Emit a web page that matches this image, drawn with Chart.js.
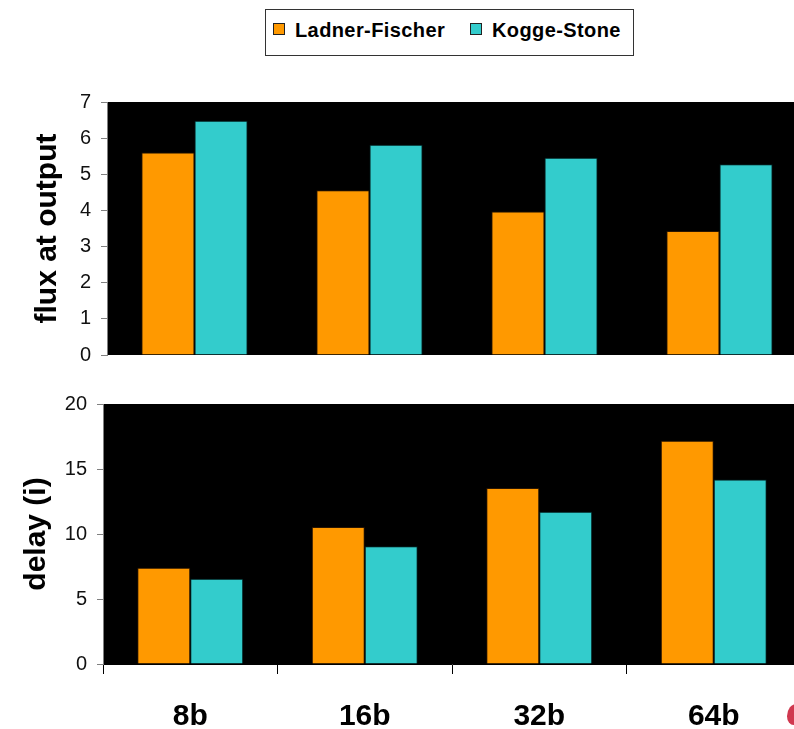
<!DOCTYPE html>
<html>
<head>
<meta charset="utf-8">
<script src="https://cdn.jsdelivr.net/npm/chart.js@4.4.1/dist/chart.umd.min.js"></script>
<style>
html, body { margin: 0; padding: 0; width: 794px; height: 729px; overflow: hidden; background: #fff; }
canvas { position: absolute; left: 0; }
#c1 { top: 0; }
#c2 { top: 370px; }
.lg { position: absolute; font-family: "Liberation Sans", Arial, sans-serif; font-weight: bold; font-size: 20px; line-height: 20px; letter-spacing: 0.4px; color: #000; white-space: nowrap; }
.sw { position: absolute; width: 10px; height: 10px; border: 1px solid #222; }
#lgbox { position: absolute; left: 265px; top: 9px; width: 367px; height: 45px; border: 1px solid #333; }
#blob { position: absolute; left: 787px; top: 704px; width: 16px; height: 21px; background: #d0384f; border-radius: 70% 30% 50% 50%; }
</style>
</head>
<body>
<div id="lgbox"></div>
<div class="sw" style="left:273px;top:23px;background:#FF9900"></div>
<div class="lg" style="left:295px;top:20px">Ladner-Fischer</div>
<div class="sw" style="left:470px;top:23px;background:#33CCCC"></div>
<div class="lg" style="left:492px;top:20px">Kogge-Stone</div>
<canvas id="c1" width="807" height="377"></canvas>
<canvas id="c2" width="801" height="374"></canvas>
<div id="blob"></div>
<script>
// categories (adder widths)
var categories = ['8b', '16b', '32b', '64b'];
var seriesNames = ['Ladner-Fischer', 'Kogge-Stone'];

// top panel - flux at output
var fluxLF = [5.6, 4.56, 3.97, 3.43];
var fluxKS = [6.48, 5.82, 5.46, 5.28];
var fluxMax = 7, fluxStep = 1;

// bottom panel - delay
var delayLF = [7.4, 10.54, 13.54, 17.18];
var delayKS = [6.55, 9.05, 11.72, 14.2];
var delayMax = 20, delayStep = 5;

var orange = '#FF9900';
var teal = '#33CCCC';

Chart.defaults.font.family = '"Liberation Sans", Arial, sans-serif';
Chart.defaults.color = '#000';

// black plot background, drawn before the axes
var blackArea = {
    id: 'blackArea',
    beforeDraw: function(chart) {
        var a = chart.chartArea;
        var ctx = chart.ctx;
        ctx.save();
        ctx.fillStyle = '#000';
        ctx.fillRect(a.left, a.top, a.right - a.left, a.bottom - a.top);
        ctx.restore();
    }
};

function makeSets(lf, ks) {
    return [
        {
            label: seriesNames[0],
            data: lf,
            backgroundColor: orange,
            borderColor: 'rgba(60,30,0,0.7)',
            borderWidth: 1,
            categoryPercentage: 0.607,
            barPercentage: 1.0
        },
        {
            label: seriesNames[1],
            data: ks,
            backgroundColor: teal,
            borderColor: 'rgba(0,50,50,0.7)',
            borderWidth: 1,
            categoryPercentage: 0.607,
            barPercentage: 1.0
        }
    ];
}

function yAxis(max, step, title, axisWidth, titlePad) {
    return {
        min: 0,
        max: max,
        afterFit: function(s) { s.width = axisWidth; },
        ticks: { stepSize: step, padding: 10, color: '#111', font: { size: 20 } },
        grid: { drawOnChartArea: false, tickLength: 6, color: '#808080' },
        border: { color: '#808080' },
        title: {
            display: true,
            text: title,
            color: '#000',
            font: { size: 30, weight: 'bold' },
            padding: { top: titlePad, bottom: 0 }
        }
    };
}

// ---------- flux at output
new Chart(document.getElementById('c1').getContext('2d'), {
    type: 'bar',
    data: { labels: categories, datasets: makeSets(fluxLF, fluxKS) },
    options: {
        responsive: false,
        animation: false,
        layout: { padding: { top: 102, bottom: 16, left: 0, right: 0 } },
        plugins: { legend: { display: false }, tooltip: { enabled: false } },
        scales: {
            x: { display: false },
            y: yAxis(fluxMax, fluxStep, 'flux at output', 107, 30)
        }
    },
    plugins: [blackArea]
});

// ---------- delay
new Chart(document.getElementById('c2').getContext('2d'), {
    type: 'bar',
    data: { labels: categories, datasets: makeSets(delayLF, delayKS) },
    options: {
        responsive: false,
        animation: false,
        layout: { padding: { top: 34, bottom: 0, left: 0, right: 0 } },
        plugins: { legend: { display: false }, tooltip: { enabled: false } },
        scales: {
            x: {
                afterFit: function(s) { s.height = 80; },
                ticks: { padding: 25, color: '#000', font: { size: 30, weight: 'bold' } },
                grid: { drawOnChartArea: false, offset: true, tickLength: 10, color: '#000' },
                border: { color: '#000' }
            },
            y: yAxis(delayMax, delayStep, 'delay (i)', 103, 19)
        }
    },
    plugins: [blackArea]
});
</script>
</body>
</html>
